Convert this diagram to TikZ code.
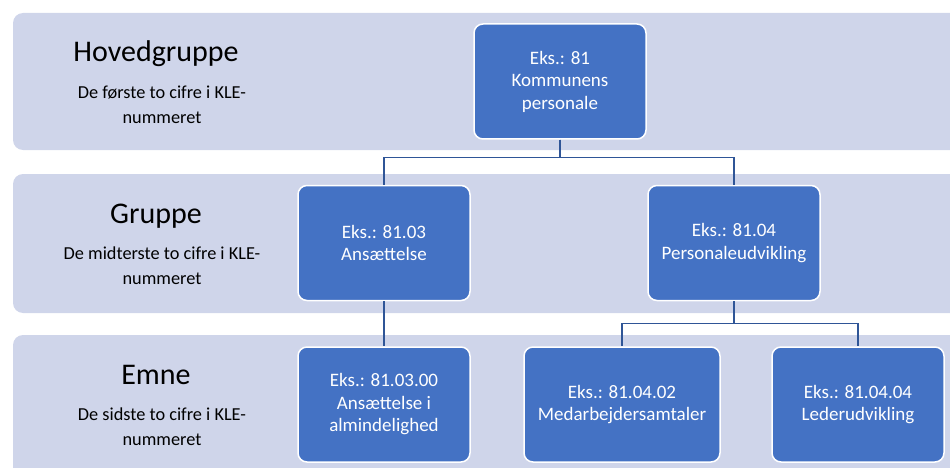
\documentclass[tikz,border=0pt]{standalone}
\usepackage{fontspec}
\setmainfont{Carlito}
\definecolor{bandfill}{HTML}{CFD5EA}
\definecolor{boxfill}{HTML}{4472C4}
\definecolor{linkcol}{HTML}{2F5597}

\begin{document}
\begin{tikzpicture}[x=1pt,y=-1pt,
    band/.style={fill=bandfill, rounded corners=10pt},
    klebox/.style={draw=white, line width=1.5pt, fill=boxfill, rounded corners=9pt,
        minimum width=172pt, minimum height=115pt, align=center, text=white,
        font=\fontsize{19}{22.5}\selectfont},
    level/.style={anchor=base, font=\fontsize{30}{34}\selectfont},
    note/.style={align=center, font=\fontsize{18.3}{25}\selectfont},
    link/.style={draw=linkcol, line width=1.3pt}]
        \useasboundingbox (0,0) rectangle (950,468);
        \clip (0,0) rectangle (950,468);
        % the three bands
        \fill[band] (13,13) rectangle (975,150);
        \fill[band] (13,174) rectangle (975,313);
        \fill[band] (13,335) rectangle (975,495);
        % left labels
        \node[level] (hoved) at (156,62) {Hovedgruppe};
        \node[note] (hovednote) at (162,105) {De første to cifre i KLE-\\nummeret};
        \node[level] (gruppe) at (156,223) {Gruppe};
        \node[note] (gruppenote) at (162,266) {De midterste to cifre i KLE-\\nummeret};
        \node[level] (emne) at (156,384) {Emne};
        \node[note] (emnenote) at (162,427) {De sidste to cifre i KLE-\\nummeret};
        % boxes
        \node[klebox] (top) at (560,81.5) {Eks.: 81\\Kommunens\\personale};
        \node[klebox] (g1) at (384,243) {Eks.: 81.03\\Ansættelse};
        \node[klebox] (g2) at (734,243) {Eks.: 81.04\\Personaleudvikling};
        \node[klebox] (e1) at (384,404.5) {Eks.: 81.03.00\\Ansættelse i\\almindelighed};
        \node[klebox, minimum width=196pt] (e2) at (622,404.5) {Eks.: 81.04.02\\Medarbejdersamtaler};
        \node[klebox] (e3) at (858,404.5) {Eks.: 81.04.04\\Lederudvikling};
        % connectors
        \draw[link] (top.south) -- ++(0,18) -| (g1.north);
        \draw[link] (top.south) -- ++(0,18) -| (g2.north);
        \draw[link] (g1.south) -- (e1.north);
        \draw[link] (g2.south) -- ++(0,22) -| (e2.north);
        \draw[link] (g2.south) -- ++(0,22) -| (e3.north);
    \end{tikzpicture}
\end{document}
